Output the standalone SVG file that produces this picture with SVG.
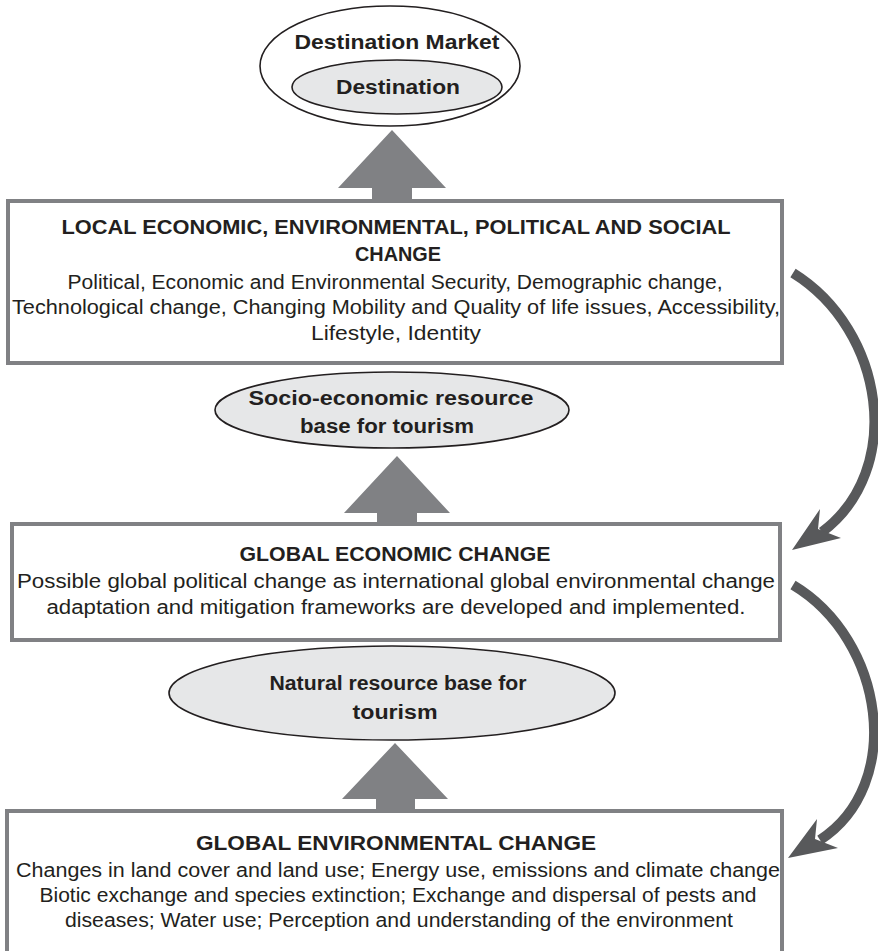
<svg xmlns="http://www.w3.org/2000/svg" width="878" height="951" viewBox="0 0 878 951">
<style>
.box{fill:#fff;stroke:#808184;stroke-width:4}
.ell{stroke:#231f20;stroke-width:1.6}
.up{fill:#808184}
.curve{fill:none;stroke:#58595b;stroke-width:10}
.head{fill:#58595b}
text{font-family:"Liberation Sans",Arial,sans-serif;fill:#231f20;text-anchor:middle}
.t{font-size:20px;font-weight:bold}
.b{font-size:19.5px}
.e{font-size:20px;font-weight:bold}
</style>
<rect width="878" height="951" fill="#fff"/>
<g id="connectors">
<polygon class="up" points="392,130 446,188 412,188 412,201 372,201 372,188 338,188"/>
<polygon class="up" points="397,456 450,513 417,513 417,524 377,524 377,513 344,513"/>
<polygon class="up" points="395,743 448,799 415,799 415,811 376,811 376,799 342,799"/>
<path class="curve" d="M793,273 C885,330 905,470 822,532"/>
<polygon class="head" points="792,550 820,509 818,529 841,538"/>
<path class="curve" d="M793,585 C885,640 905,785 820,840"/>
<polygon class="head" points="788,858 817,819 815,839 838,848"/>
</g>
<g id="destination-market">
<ellipse class="ell" cx="390" cy="66" rx="130" ry="60" fill="#fff"/>
<text class="e" x="397" y="49" textLength="205" lengthAdjust="spacingAndGlyphs">Destination Market</text>
</g>
<g id="destination">
<ellipse class="ell" cx="397" cy="87" rx="105" ry="27" fill="#e6e7e8"/>
<text class="e" x="398" y="94" textLength="124" lengthAdjust="spacingAndGlyphs">Destination</text>
</g>
<g id="local-change">
<rect class="box" x="8" y="201" width="774" height="162"/>
<text class="t" x="396" y="234" textLength="669" lengthAdjust="spacingAndGlyphs">LOCAL ECONOMIC, ENVIRONMENTAL, POLITICAL AND SOCIAL</text>
<text class="t" x="398" y="261" textLength="86" lengthAdjust="spacingAndGlyphs">CHANGE</text>
<text class="b" x="395" y="289" textLength="655" lengthAdjust="spacingAndGlyphs">Political, Economic and Environmental Security, Demographic change,</text>
<text class="b" x="396" y="314" textLength="768" lengthAdjust="spacingAndGlyphs">Technological change, Changing Mobility and Quality of life issues, Accessibility,</text>
<text class="b" x="396" y="340" textLength="170" lengthAdjust="spacingAndGlyphs">Lifestyle, Identity</text>
</g>
<g id="socio-economic">
<ellipse class="ell" cx="392" cy="410" rx="177" ry="38" fill="#e6e7e8"/>
<text class="e" x="391" y="405" textLength="285" lengthAdjust="spacingAndGlyphs">Socio-economic resource</text>
<text class="e" x="387" y="433" textLength="174" lengthAdjust="spacingAndGlyphs">base for tourism</text>
</g>
<g id="global-economic">
<rect class="box" x="12" y="524" width="768" height="116"/>
<text class="t" x="395" y="561" textLength="311" lengthAdjust="spacingAndGlyphs">GLOBAL ECONOMIC CHANGE</text>
<text class="b" x="396" y="588" textLength="758" lengthAdjust="spacingAndGlyphs">Possible global political change as international global environmental change</text>
<text class="b" x="396" y="614" textLength="699" lengthAdjust="spacingAndGlyphs">adaptation and mitigation frameworks are developed and implemented.</text>
</g>
<g id="natural-resource">
<ellipse class="ell" cx="392" cy="693" rx="223" ry="47" fill="#e6e7e8"/>
<text class="e" x="398" y="690" textLength="257" lengthAdjust="spacingAndGlyphs">Natural resource base for</text>
<text class="e" x="395" y="719" textLength="85" lengthAdjust="spacingAndGlyphs">tourism</text>
</g>
<g id="global-environmental">
<rect class="box" x="7" y="811" width="775" height="170"/>
<text class="t" x="396" y="850" textLength="400" lengthAdjust="spacingAndGlyphs">GLOBAL ENVIRONMENTAL CHANGE</text>
<text class="b" x="398" y="877" textLength="764" lengthAdjust="spacingAndGlyphs">Changes in land cover and land use; Energy use, emissions and climate change</text>
<text class="b" x="398" y="902" textLength="717" lengthAdjust="spacingAndGlyphs">Biotic exchange and species extinction; Exchange and dispersal of pests and</text>
<text class="b" x="399" y="927" textLength="668" lengthAdjust="spacingAndGlyphs">diseases; Water use; Perception and understanding of the environment</text>
</g>
</svg>
